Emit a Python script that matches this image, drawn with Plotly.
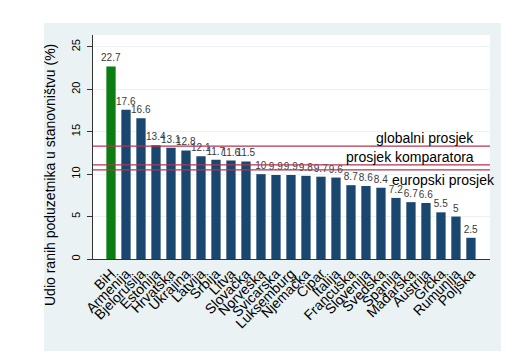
import plotly.graph_objects as go

countries = ["BiH", "Armenija", "Bjelorusija", "Estonija", "Hrvatska", "Ukrajina", "Latvija",
             "Srbija", "Litva", "Slovačka", "Norveška", "Švicarska", "Luksemburg", "Njemačka",
             "Cipar", "Italija", "Francuska", "Slovenija", "Švedska", "Španija", "Mađarska",
             "Austrija", "Grčka", "Rumunija", "Poljska"]
values = [22.7, 17.6, 16.6, 13.4, 13.1, 12.8, 12.1, 11.7, 11.6, 11.5, 10, 9.9, 9.9, 9.8,
          9.7, 9.6, 8.7, 8.6, 8.4, 7.2, 6.7, 6.6, 5.5, 5, 2.5]
ref_names = ["globalni prosjek", "prosjek komparatora", "europski prosjek"]
ref_values = [13.3, 11.1, 10.5]
y_ticks = [0, 5, 10, 15, 20, 25]
y_title = "Udio ranih poduzetnika u stanovništvu (%)"

colors = ["#0b7d12" if c == "BiH" else "#1a476f" for c in countries]
labels = [("%g" % v) for v in values]
FONT = "Liberation Sans, Arial"

fig = go.Figure()
fig.add_trace(go.Bar(
    x=countries, y=values, marker=dict(color=colors, line=dict(width=0)),
    width=0.62, text=labels, textposition="outside", cliponaxis=False,
    constraintext="none",
    textfont=dict(size=10, color="#3a3a3a", family=FONT),
))

W, H = 519, 359
L, R, T, B = 85, 37, 27, 108
pw, ph = W - L - R, H - T - B

def px(x):
    return (x - L) / pw

def py(y):
    return (H - B - y) / ph

shapes = [
    dict(type="rect", xref="paper", yref="paper", x0=px(36), x1=px(493), y0=py(343), y1=py(15),
         fillcolor="#eaf2f3", line=dict(width=0), layer="below"),
    dict(type="rect", xref="paper", yref="paper", x0=0, x1=1, y0=0, y1=1,
         fillcolor="white", line=dict(width=0), layer="below"),
]
for v in ref_values:
    shapes.append(dict(type="line", xref="paper", yref="y", x0=0, x1=1, y0=v, y1=v,
                       line=dict(color="#b8324f", width=1.3)))

annotations = [
    dict(text=ref_names[0], xref="paper", yref="paper", x=px(468), y=py(130), xanchor="right",
         yanchor="middle", showarrow=False, font=dict(size=14, color="black", family=FONT)),
    dict(text=ref_names[1], xref="paper", yref="paper", x=px(468), y=py(149), xanchor="right",
         yanchor="middle", showarrow=False, font=dict(size=14, color="black", family=FONT)),
    dict(text=ref_names[2], xref="paper", yref="paper", x=px(382), y=py(172), xanchor="left",
         yanchor="middle", showarrow=False, font=dict(size=14, color="black", family=FONT)),
    dict(text=y_title, xref="paper", yref="paper", x=px(42), y=py(167), xanchor="center",
         yanchor="middle", textangle=-90, showarrow=False,
         font=dict(size=14, color="black", family=FONT)),
]

fig.update_layout(
    width=W, height=H, margin=dict(l=L, r=R, t=T, b=B, pad=0),
    paper_bgcolor="white", plot_bgcolor="white", showlegend=False,
    font=dict(family=FONT, color="black"),
    shapes=shapes, annotations=annotations,
    xaxis=dict(range=[-1.2, 25.27], tickmode="array", tickvals=countries, ticktext=countries,
               tickangle=-45, tickfont=dict(size=14), showgrid=False,
               showline=True, linecolor="#333333", linewidth=1, ticks="", fixedrange=True),
    yaxis=dict(range=[0, 26.4], tickvals=y_ticks, tickangle=-90, tickfont=dict(size=11),
               showgrid=True, gridcolor="#eaf2f3", gridwidth=1, zeroline=False,
               showline=True, linecolor="#333333", linewidth=1, ticks="outside", ticklen=5,
               tickcolor="#333333", ticklabelstandoff=3),
)

fig.write_html("out.html")
